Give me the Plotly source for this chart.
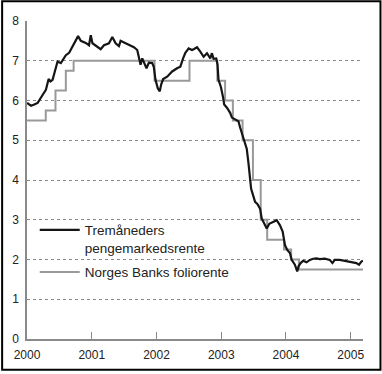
import plotly.graph_objects as go

# --- data ---
market_years = [
    2000.000, 2000.062, 2000.112, 2000.165, 2000.226, 2000.292, 2000.334, 2000.362,
    2000.395, 2000.446, 2000.472, 2000.523, 2000.600, 2000.651, 2000.703, 2000.738,
    2000.789, 2000.831, 2000.908, 2000.958, 2000.985, 2001.011, 2001.088, 2001.138,
    2001.189, 2001.266, 2001.318, 2001.369, 2001.420, 2001.446, 2001.523, 2001.600,
    2001.651, 2001.703, 2001.728, 2001.754, 2001.780, 2001.815, 2001.846, 2001.882,
    2001.934, 2001.958, 2001.985, 2002.020, 2002.051, 2002.072, 2002.103, 2002.165,
    2002.242, 2002.318, 2002.369, 2002.411, 2002.446, 2002.497, 2002.549, 2002.574,
    2002.626, 2002.677, 2002.728, 2002.780, 2002.831, 2002.857, 2002.882, 2002.923,
    2002.943, 2002.958, 2002.995, 2003.026, 2003.046, 2003.088, 2003.138, 2003.165,
    2003.215, 2003.266, 2003.292, 2003.343, 2003.395, 2003.420, 2003.446, 2003.462,
    2003.523, 2003.558, 2003.600, 2003.626, 2003.651, 2003.703, 2003.743, 2003.805,
    2003.857, 2003.908, 2003.949, 2003.985, 2004.020, 2004.062, 2004.088, 2004.138,
    2004.174, 2004.195, 2004.226, 2004.266, 2004.318, 2004.369, 2004.420, 2004.472,
    2004.523, 2004.600, 2004.677, 2004.718, 2004.754, 2004.831, 2004.908, 2004.985,
    2005.088, 2005.128, 2005.165, 2005.189,
]
market_rate = [
    5.94, 5.87, 5.90, 5.94, 6.10, 6.27, 6.54, 6.48,
    6.52, 6.85, 6.98, 6.94, 7.14, 7.20, 7.35, 7.44,
    7.62, 7.50, 7.45, 7.39, 7.64, 7.44, 7.35, 7.29,
    7.39, 7.44, 7.60, 7.44, 7.37, 7.50, 7.44, 7.39,
    7.34, 7.27, 7.06, 6.90, 7.06, 6.90, 6.81, 6.95,
    6.94, 6.85, 6.52, 6.31, 6.23, 6.40, 6.54, 6.60,
    6.73, 6.81, 6.85, 7.06, 7.20, 7.31, 7.27, 7.29,
    7.34, 7.23, 7.10, 7.19, 7.06, 7.19, 7.05, 7.06,
    6.90, 6.52, 6.34, 6.10, 5.90, 5.82, 5.69, 5.57,
    5.52, 5.48, 5.32, 5.02, 4.78, 4.44, 4.11, 3.78,
    3.45, 3.40, 3.28, 3.03, 2.95, 2.78, 2.90, 2.95,
    2.99, 2.86, 2.70, 2.36, 2.24, 2.16, 1.99, 1.87,
    1.70, 1.83, 1.91, 1.97, 1.93, 1.99, 2.02, 2.03,
    2.01, 2.02, 1.99, 1.91, 1.99, 1.99, 1.97, 1.95,
    1.91, 1.87, 1.95, 1.97,
]
policy_years = [2000.00, 2000.29, 2000.44, 2000.60, 2000.72, 2001.97, 2002.51, 2002.94,
                2003.06, 2003.18, 2003.33, 2003.49, 2003.61, 2003.71, 2003.97, 2004.08,
                2004.20, 2005.19]
policy_rate = [5.50, 5.75, 6.25, 6.75, 7.00, 6.50, 7.00, 6.50,
               6.00, 5.50, 5.00, 4.00, 3.00, 2.50, 2.25, 2.00,
               1.75, 1.75]
x_tick_vals = [2000, 2001, 2002, 2003, 2004, 2005]
x_tick_text = ["2000", "2001", "2002", "2003", "2004", "2005"]
y_tick_vals = [0, 1, 2, 3, 4, 5, 6, 7, 8]

name_market = "Tremåneders<br>pengemarkedsrente"
name_policy = "Norges Banks foliorente"

FONT = "Liberation Sans, Arial, sans-serif"

fig = go.Figure()
fig.add_trace(go.Scatter(
    x=policy_years, y=policy_rate, mode="lines", name=name_policy,
    line=dict(color="#999999", width=2, shape="hv"),
    legendrank=2, legendgroup="b",
))
fig.add_trace(go.Scatter(
    x=market_years, y=market_rate, mode="lines", name=name_market,
    line=dict(color="#151515", width=2.2),
    legendrank=1, legendgroup="a",
))

fig.update_layout(
    width=382, height=374,
    margin=dict(l=26, r=19, t=21, b=32),
    paper_bgcolor="white", plot_bgcolor="white",
    font=dict(family=FONT, size=12, color="#222222"),
    showlegend=True,
    legend=dict(
        x=0.023, y=0.391, xanchor="left", yanchor="top",
        bgcolor="rgba(0,0,0,0)", borderwidth=0,
        font=dict(family=FONT, size=13.5, color="#222222"),
        valign="top", tracegroupgap=4, itemwidth=40,
    ),
    xaxis=dict(
        range=[2000, 2005.19], tickvals=x_tick_vals, ticktext=x_tick_text,
        showgrid=False, zeroline=False,
        showline=True, linecolor="#8a8a8a", linewidth=1.5,
        ticks="inside", ticklen=7, tickcolor="#8a8a8a", tickwidth=1.2,
        ticklabelstandoff=4,
        tickfont=dict(size=12, color="#222222"),
    ),
    yaxis=dict(
        range=[0, 8], tickvals=y_tick_vals,
        showgrid=True, gridcolor="#8a8a8a", griddash="dot", gridwidth=1,
        zeroline=False,
        showline=True, linecolor="#8a8a8a", linewidth=1.5,
        ticks="", ticklabelstandoff=4,
        tickfont=dict(size=12, color="#222222"),
    ),
    shapes=[
        # white backing behind the legend (hides the grid line there)
        dict(type="rect", xref="paper", yref="paper",
             x0=0.012, x1=0.632, y0=0.19, y1=0.36,
             fillcolor="white", line=dict(width=0), layer="between"),
        # frame around the whole figure
        dict(type="rect", xref="paper", yref="paper",
             x0=-0.074, x1=1.052, y0=-0.097, y1=1.062,
             line=dict(color="black", width=2), layer="above"),
    ],
)

fig.write_html(
    "out.html",
    config={"displayModeBar": False},
    post_script="document.body.style.margin='0';",
)
